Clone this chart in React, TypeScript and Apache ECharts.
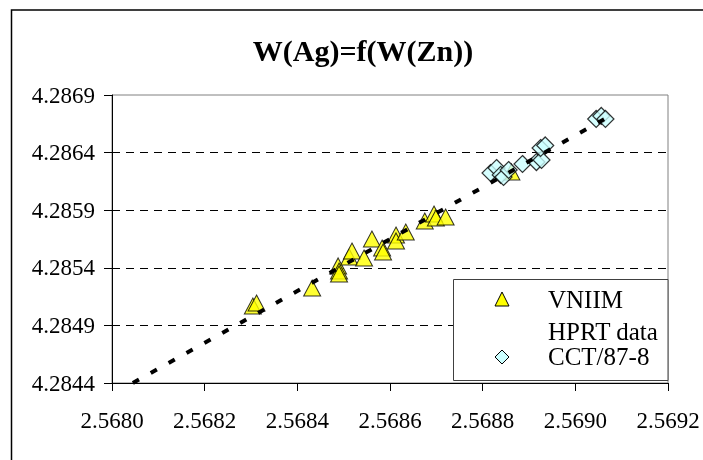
import React, { useEffect, useRef } from "react";
import * as echarts from "echarts";

const chartTitle = "W(Ag)=f(W(Zn))";
const legendLabels = ["VNIIM", "HPRT data", "CCT/87-8"];

const xMin = 2.568;
const xMax = 2.5692;
const xStep = 0.0002;
const yMin = 4.2844;
const yMax = 4.2869;
const yStep = 0.0005;

// VNIIM points
const vniimZn = [
  2.568304, 2.568312, 2.568432, 2.568488, 2.56849, 2.56849, 2.568512, 2.568518,
  2.568544, 2.568561, 2.568583, 2.568585, 2.568613, 2.568613, 2.568634, 2.568675,
  2.568695, 2.568699, 2.56872, 2.568862,
];
const vniimAg = [
  4.285068, 4.285094, 4.285225, 4.285416, 4.285372, 4.285346, 4.285494, 4.285546,
  4.285485, 4.28565, 4.285572, 4.285537, 4.285685, 4.285633, 4.285711, 4.285806,
  4.285867, 4.285832, 4.285841, 4.286232,
];

// CCT/87-8 points
const cctZn = [
  2.568817, 2.56883, 2.568839, 2.568845, 2.568856, 2.568886, 2.568916, 2.568927,
  2.568925, 2.568935, 2.569045, 2.569056, 2.569065,
];
const cctAg = [
  4.286223, 4.286266, 4.286206, 4.286188, 4.286249, 4.286301, 4.286318, 4.286336,
  4.28644, 4.286462, 4.286692, 4.286718, 4.286692,
];

// Trend line end points
const trendZn = [2.568045, 2.569071];
const trendAg = [4.2844, 4.286709];

export default function App() {
  const ref = useRef<HTMLDivElement>(null);
  useEffect(() => {
    if (!ref.current) return;
    const chart = echarts.init(ref.current, null, { renderer: "svg" });
    const zip = (a: number[], b: number[]) => a.map((v, i) => [v, b[i]]);
    const fmt = (v: number) => v.toFixed(4);
    const txt = (text: string, x: number, y: number, size: number, extra: any = {}) => ({
      type: "text",
      z: 101,
      x,
      y,
      style: { text, fontFamily: "Liberation Serif", fontSize: size, fill: "#000", ...extra },
    });
    chart.setOption({
      animation: false,
      grid: {
        left: 112,
        right: 35,
        top: 95,
        bottom: 77,
        show: true,
        borderColor: "#808080",
        borderWidth: 1,
      },
      xAxis: {
        type: "value",
        min: xMin,
        max: xMax,
        interval: xStep,
        axisLine: { show: true, lineStyle: { color: "#000", width: 1 } },
        axisTick: { show: true, inside: false, length: 8, lineStyle: { color: "#000" } },
        axisLabel: {
          color: "#000",
          fontFamily: "Liberation Serif",
          fontSize: 23,
          margin: 26,
          formatter: fmt,
        },
        splitLine: { show: false },
      },
      yAxis: {
        type: "value",
        min: yMin,
        max: yMax,
        interval: yStep,
        axisLine: { show: true, lineStyle: { color: "#000", width: 1 } },
        axisTick: { show: true, inside: false, length: 8, lineStyle: { color: "#000" } },
        axisLabel: {
          color: "#000",
          fontFamily: "Liberation Serif",
          fontSize: 23,
          margin: 17,
          padding: [4, 0, 0, 0],
          formatter: fmt,
        },
        splitLine: {
          show: true,
          lineStyle: {
            color: ["#000", "#000", "#000", "#000", "#000", "rgba(0,0,0,0)"],
            type: [8, 6],
            width: 1,
          },
        },
      },
      series: [
        {
          name: legendLabels[0],
          type: "scatter",
          symbol: "triangle",
          symbolSize: [17, 16],
          data: zip(vniimZn, vniimAg),
          itemStyle: { color: "#FFFF00", borderColor: "#000", borderWidth: 1 },
          z: 2,
        },
        {
          name: legendLabels[2],
          type: "scatter",
          symbol: "diamond",
          symbolSize: [17, 17],
          data: zip(cctZn, cctAg),
          itemStyle: { color: "#CCFFFF", borderColor: "#000", borderWidth: 1.2 },
          z: 3,
        },
        {
          name: "trend",
          type: "line",
          symbol: "none",
          data: zip(trendZn, trendAg),
          lineStyle: { color: "#000", width: 4, type: [7, 13.5], cap: "butt" },
          z: 4,
        },
      ],
      graphic: [
        {
          type: "rect",
          z: 100,
          shape: { x: 11.5, y: 10, width: 800, height: 600 },
          style: { fill: "none", stroke: "#000", lineWidth: 1.5 },
          silent: true,
        },
        txt(chartTitle, 363, 50, 30, { fontWeight: "bold", align: "center", verticalAlign: "middle" }),
        {
          type: "rect",
          z: 100,
          shape: { x: 453.5, y: 279.5, width: 214.5, height: 101 },
          style: { fill: "#fff", stroke: "#404040", lineWidth: 1 },
        },
        {
          type: "polygon",
          z: 101,
          shape: { points: [[502, 292], [509, 306], [495, 306]] },
          style: { fill: "#FFFF00", stroke: "#000", lineWidth: 1 },
        },
        {
          type: "polygon",
          z: 101,
          shape: { points: [[502, 350], [509, 357], [502, 364], [495, 357]] },
          style: { fill: "#CCFFFF", stroke: "#000", lineWidth: 1 },
        },
        txt(legendLabels[0], 548, 299.5, 25, { verticalAlign: "middle" }),
        txt(legendLabels[1], 548, 331, 25, { verticalAlign: "middle" }),
        txt(legendLabels[2], 548, 356, 25, { verticalAlign: "middle" }),
      ],
    });
    return () => chart.dispose();
  }, []);
  return (
    <div
      ref={ref}
      style={{ position: "fixed", left: 0, top: 0, width: 703, height: 460 }}
    />
  );
}
